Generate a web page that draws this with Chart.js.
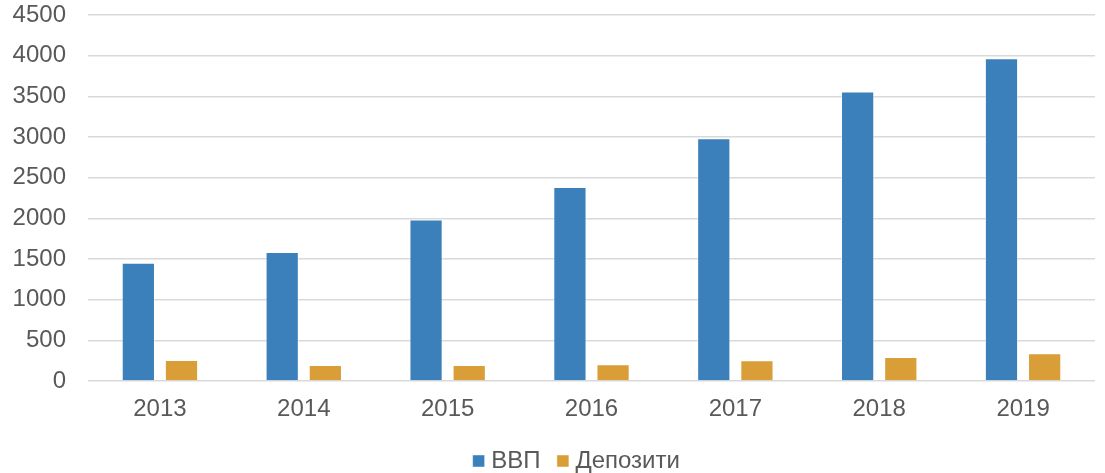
<!DOCTYPE html>
<html>
<head>
<meta charset="utf-8">
<script src="https://cdn.jsdelivr.net/npm/chart.js@4"></script>
<style>
  html, body { margin: 0; padding: 0; background: #fff; }
  #wrap { width: 1105px; height: 473px; }
</style>
</head>
<body>
<div id="wrap"><canvas id="chart"></canvas></div>
<script>
// ----- Data -----
const years = ['2013', '2014', '2015', '2016', '2017', '2018', '2019'];
const gdp = [1455, 1587, 1987, 2384, 2986, 3558, 3968];
const deposits = [259, 197, 197, 206, 256, 296, 342];
const yTicks = [0, 500, 1000, 1500, 2000, 2500, 3000, 3500, 4000, 4500];

const textColor = '#595959';
const fontFamily = '"Liberation Sans", Arial, sans-serif';

// nudge the legend a bit right, it sits under the plot area in the original
const legendShift = {
  id: 'legendShift',
  afterLayout(chart) {
    if (chart.legend) chart.legend.left += 50;
  }
};

const ctx = document.getElementById('chart').getContext('2d');
window.mainChart = new Chart(ctx, {
  type: 'bar',
  data: {
    labels: years,
    datasets: [
      {
        label: 'ВВП',
        data: gdp,
        backgroundColor: '#3b80ba',
        borderColor: 'rgba(255,255,255,0.45)',
        borderWidth: 1,
        categoryPercentage: 0.6,
        barPercentage: 0.77
      },
      {
        label: 'Депозити',
        data: deposits,
        backgroundColor: '#d99e38',
        borderColor: 'rgba(255,255,255,0.45)',
        borderWidth: 1,
        categoryPercentage: 0.6,
        barPercentage: 0.77
      }
    ]
  },
  plugins: [legendShift],
  options: {
    responsive: true,
    maintainAspectRatio: false,
    animation: false,
    layout: { padding: { left: 13, right: 10, top: 0, bottom: -10 } },
    plugins: {
      tooltip: { enabled: false },
      legend: {
        position: 'bottom',
        labels: {
          color: textColor,
          font: { family: fontFamily, size: 24 },
          usePointStyle: true,
          pointStyle: 'rect',
          boxWidth: 1,   // square is centred near item start -> tighter gap to text
          boxHeight: 12,
          padding: 22
        }
      }
    },
    scales: {
      x: {
        grid: { display: false },
        border: { display: false },
        afterFit: axis => { axis.height = 46; },
        ticks: {
          color: textColor,
          font: { family: fontFamily, size: 24 },
          padding: 6,
          maxRotation: 0
        }
      },
      y: {
        min: 0,
        max: 4500,
        afterBuildTicks: axis => { axis.ticks = yTicks.map(v => ({ value: v })); },
        afterFit: axis => {
          axis.width = 75;
          axis.paddingTop = 15;
          axis.paddingBottom = 0;
        },
        grid: { color: '#d9d9d9', lineWidth: 1.5, drawTicks: false },
        border: { display: false },
        ticks: {
          color: textColor,
          font: { family: fontFamily, size: 24 },
          padding: 22,
          callback: v => String(v)
        }
      }
    }
  }
});
</script>
</body>
</html>
